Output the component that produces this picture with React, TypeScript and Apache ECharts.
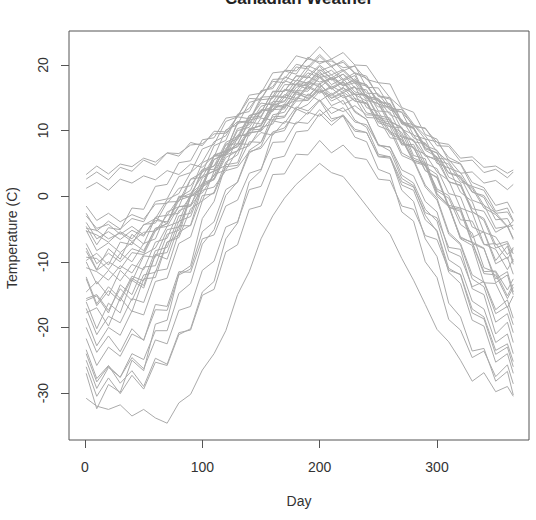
import React, { useEffect, useRef } from "react";
import * as echarts from "echarts";

// Day of year at which each station value is given
const days = [1, 10, 20, 30, 40, 50, 60, 70, 80, 90, 100, 110, 120, 130, 140, 150, 160, 170, 180, 190, 200, 210, 220, 230, 240, 250, 260, 270, 280, 290, 300, 310, 320, 330, 340, 350, 360, 365];

const stJohns = [-3.0,-4.9,-4.3,-5.8,-4.6,-5.9,-3.7,-3.9,-1.6,-1.5,0.9,1.4,3.9,4.4,6.8,7.3,9.8,10.4,13.1,14.0,16.0,15.0,15.9,14.5,14.1,11.7,11.3,9.0,8.5,6.1,5.7,3.6,3.1,0.6,0.1,-2.6,-2.4,-3.8];
const halifax = [-4.0,-6.5,-5.4,-6.6,-5.2,-6.1,-3.2,-2.9,-0.3,0.4,3.1,3.8,6.7,7.6,10.2,10.8,13.3,14.0,16.6,17.1,18.7,17.7,18.6,17.2,16.8,14.4,13.9,11.2,10.4,7.7,7.0,4.3,3.6,0.7,-0.2,-3.6,-3.4,-5.1];
const sydney = [-4.9,-5.2,-6.5,-5.6,-6.9,-5.5,-5.3,-2.9,-2.6,0.0,0.5,3.3,4.0,7.0,7.7,10.5,11.0,13.9,14.6,17.1,17.1,18.1,17.0,17.6,15.2,14.8,12.4,11.7,8.9,8.1,5.5,4.9,2.2,1.5,-1.4,-2.5,-4.6,-3.8];
const yarmouth = [-1.5,-3.7,-2.6,-3.9,-2.8,-3.5,-1.2,-1.1,1.2,1.6,4.1,4.6,7.0,7.5,9.7,9.9,12.1,12.2,14.5,14.6,16.2,15.3,16.5,15.5,15.5,13.6,13.6,11.3,10.9,8.7,8.3,5.9,5.0,2.1,1.3,-1.4,-0.9,-2.6];
const charlottetown = [-5.2,-8.3,-7.1,-8.6,-7.0,-8.3,-4.9,-4.6,-1.6,-1.3,1.8,2.5,5.9,6.9,10.1,10.8,13.9,14.4,17.2,17.3,19.3,18.0,19.1,17.4,17.0,14.5,14.1,11.0,10.3,7.2,6.6,3.5,2.9,-0.6,-1.3,-4.9,-4.6,-6.6];
const fredericton = [-7.2,-10.3,-8.7,-10.0,-8.0,-8.6,-4.9,-4.2,-0.6,0.0,3.7,4.6,8.2,9.1,12.3,12.8,15.9,16.0,18.3,18.3,20.0,18.5,19.3,17.6,17.0,14.0,13.6,10.2,9.4,6.3,5.4,2.2,1.6,-2.4,-3.4,-7.4,-6.9,-8.8];
const schefferville = [-20.0,-23.8,-21.3,-23.7,-20.2,-22.0,-16.5,-16.8,-11.5,-11.6,-6.5,-5.9,-1.5,-0.6,3.5,4.1,8.2,8.3,11.3,11.1,13.2,11.4,12.4,10.2,9.7,6.1,6.0,2.2,1.4,-2.5,-3.3,-7.8,-8.1,-14.1,-15.0,-21.0,-19.2,-22.3];
const arvida = [-12.6,-16.7,-14.4,-16.0,-12.5,-13.6,-8.9,-8.6,-3.8,-3.1,1.4,2.6,6.8,7.9,11.6,12.0,15.3,15.2,17.7,17.2,19.0,17.0,17.9,15.9,15.4,12.3,11.9,8.1,7.5,3.9,2.9,-1.4,-1.8,-7.0,-7.9,-13.2,-12.0,-15.0];
const bagotville = [-15.6,-15.0,-17.4,-14.1,-15.9,-12.0,-11.6,-7.0,-6.3,-1.9,-0.7,3.8,4.7,9.0,9.7,13.0,13.6,16.3,16.0,18.2,17.4,17.9,16.1,16.7,13.5,12.9,9.8,9.0,5.5,4.8,0.8,-0.3,-4.3,-5.6,-10.9,-11.6,-15.2,-13.4];
const quebec = [-10.0,-13.4,-11.3,-12.9,-10.4,-11.2,-7.0,-6.4,-2.2,-1.5,2.8,3.9,7.9,8.8,12.3,12.7,16.0,16.0,18.4,18.0,19.8,17.8,18.6,16.5,16.2,13.0,12.8,9.2,8.6,5.0,4.2,0.4,-0.1,-4.7,-5.5,-10.3,-9.3,-11.9];
const sherbrooke = [-10.9,-11.5,-12.8,-10.6,-11.7,-8.9,-7.9,-4.6,-3.9,0.4,1.9,5.6,6.5,10.3,10.9,13.7,14.3,17.0,17.0,18.8,18.1,18.5,16.8,17.3,14.6,14.1,11.4,10.5,7.2,6.4,3.7,2.4,-1.8,-2.5,-7.3,-8.1,-11.2,-9.6];
const montreal = [-9.3,-9.5,-11.2,-8.7,-10.0,-7.2,-6.5,-2.4,-1.6,2.6,3.6,7.7,8.5,12.5,12.9,16.1,16.4,19.1,18.6,21.2,20.2,20.9,19.1,19.9,16.6,16.5,13.6,12.8,9.3,8.7,5.0,4.3,0.6,-0.8,-5.5,-6.2,-8.9,-7.8];
const ottawa = [-8.4,-11.3,-10.0,-11.1,-8.6,-8.9,-5.3,-4.1,-0.2,0.9,5.1,6.0,10.1,10.9,14.3,14.8,17.8,17.9,20.1,19.7,21.6,19.9,20.4,18.7,18.0,15.3,15.0,11.4,10.5,7.4,6.6,2.9,2.0,-2.3,-3.7,-7.9,-7.2,-10.0];
const toronto = [-2.6,-5.3,-3.8,-5.0,-3.4,-3.9,-0.8,-0.4,3.0,3.6,7.2,7.9,11.4,12.1,15.4,15.7,18.8,19.0,21.4,20.9,22.8,20.9,21.9,20.0,19.9,17.3,17.1,13.5,12.8,9.4,8.7,5.4,4.9,1.5,0.9,-2.3,-1.8,-3.7];
const london = [-5.3,-5.9,-7.0,-5.4,-6.5,-4.4,-3.4,-0.5,0.4,3.6,5.2,8.3,9.2,12.2,13.4,15.9,16.7,19.2,19.1,20.9,20.5,20.6,19.6,19.8,17.8,17.3,15.0,13.4,11.0,9.2,6.8,5.2,2.6,1.2,-1.8,-2.8,-4.7,-4.4];
const thunderBay = [-12.3,-16.4,-13.8,-15.6,-12.2,-12.9,-8.3,-7.8,-3.0,-2.6,2.0,2.7,6.3,6.9,10.1,10.2,13.2,13.3,16.1,16.0,18.1,16.4,17.3,15.6,15.3,12.0,11.6,8.0,7.4,3.9,2.8,-1.7,-2.3,-7.2,-8.0,-12.6,-11.5,-14.6];
const winnipeg = [-17.8,-17.0,-19.8,-15.5,-17.6,-12.6,-12.4,-7.0,-5.9,0.0,1.1,6.2,6.8,11.3,11.5,15.1,15.2,18.2,17.5,19.9,19.1,19.8,17.8,18.8,15.0,14.6,11.4,10.4,6.2,5.7,0.4,-1.4,-6.5,-7.5,-13.2,-13.3,-17.0,-15.2];
const thePas = [-18.6,-22.8,-20.0,-21.2,-17.5,-18.1,-13.0,-12.5,-7.2,-6.2,-0.7,0.6,5.2,6.3,10.3,10.7,14.4,14.5,17.0,16.3,18.2,16.3,17.4,14.9,14.2,10.7,10.0,6.2,5.4,1.4,-0.6,-5.8,-7.4,-12.6,-13.8,-19.2,-17.9,-20.8];
const churchill = [-24.0,-28.3,-25.9,-27.6,-24.6,-26.3,-21.9,-22.5,-17.4,-16.8,-11.3,-9.9,-4.7,-3.9,1.0,1.5,5.7,6.1,9.8,10.0,12.6,10.8,12.3,9.9,9.7,6.0,5.8,1.7,0.9,-3.6,-5.2,-11.0,-12.0,-17.8,-18.7,-24.1,-23.0,-26.0];
const regina = [-15.9,-15.2,-17.8,-13.5,-15.0,-10.8,-10.6,-5.8,-5.2,0.1,1.6,6.3,6.9,11.1,11.5,14.7,14.9,17.6,17.0,19.3,18.4,19.2,17.6,18.4,14.9,14.1,10.8,9.7,5.8,5.1,0.3,-1.4,-6.2,-7.1,-11.8,-12.0,-15.6,-13.9];
const princeAlbert = [-17.1,-21.1,-18.3,-19.3,-15.6,-16.2,-11.4,-11.1,-5.5,-4.4,1.4,3.1,7.3,8.6,12.0,12.2,15.2,15.0,17.1,16.8,18.4,16.6,17.5,15.5,14.5,11.2,10.6,6.6,5.6,1.7,-0.3,-5.5,-7.2,-12.0,-13.1,-17.9,-16.8,-19.6];
const uraniumCity = [-21.7,-25.8,-23.0,-24.4,-21.0,-21.9,-17.3,-17.4,-12.0,-11.1,-5.4,-3.9,1.0,2.1,6.6,7.6,11.7,12.0,15.0,14.6,16.7,14.5,15.4,12.8,11.7,7.7,7.5,3.2,2.0,-2.0,-3.8,-9.7,-10.9,-16.0,-17.2,-22.3,-21.0,-24.0];
const edmonton = [-14.6,-13.0,-15.2,-11.3,-13.0,-9.1,-9.3,-5.1,-4.7,-0.1,1.3,5.6,6.4,10.0,10.5,13.1,13.2,15.5,14.9,16.8,15.9,16.5,15.0,15.6,12.7,12.3,9.5,8.7,5.2,4.7,0.0,-1.6,-6.4,-7.0,-11.5,-11.4,-14.3,-12.6];
const calgary = [-7.9,-11.2,-8.0,-9.6,-5.8,-7.3,-3.3,-4.2,0.0,-0.1,4.0,4.1,7.8,8.0,11.3,11.0,14.1,13.6,15.9,15.3,17.0,15.5,16.6,14.5,14.2,11.4,11.0,7.8,7.9,4.5,3.3,-1.7,-2.0,-6.3,-5.4,-9.8,-7.6,-10.4];
const kamloops = [-4.6,-7.4,-4.8,-5.1,-1.8,-2.0,1.5,1.8,5.1,5.4,8.6,8.9,11.9,12.2,14.9,14.8,17.5,17.3,19.7,19.4,21.3,19.7,20.7,18.8,18.3,15.2,14.8,11.2,10.4,7.0,6.0,2.2,1.7,-1.9,-2.3,-5.5,-4.5,-6.4];
const vancouver = [2.6,3.7,2.5,4.4,3.8,5.5,4.7,6.6,6.1,8.2,7.7,9.9,9.8,12.1,11.8,14.2,13.9,16.2,15.7,17.5,16.6,18.0,16.8,17.9,15.7,15.6,13.3,13.2,10.6,10.4,7.7,7.6,5.3,5.5,3.6,4.1,2.8,3.7];
const victoria = [3.3,4.6,3.4,4.9,4.5,5.8,5.2,6.6,6.5,7.8,8.0,9.5,9.6,11.4,11.2,13.2,12.9,15.1,14.6,16.6,15.7,16.8,15.8,16.6,15.2,14.9,13.1,12.8,10.8,10.3,8.2,7.9,5.8,6.0,4.4,4.6,3.5,4.0];
const princeGeorge = [-9.8,-8.7,-10.5,-7.0,-7.4,-4.3,-4.1,-0.9,-0.8,2.6,2.9,6.1,6.2,9.3,9.2,11.9,11.6,14.0,13.3,15.6,14.5,15.7,14.0,14.9,12.0,11.9,8.9,8.6,5.5,4.9,1.1,0.1,-3.6,-3.8,-7.4,-7.2,-9.6,-8.0];
const princeRupert = [1.2,2.1,0.9,2.6,2.0,3.1,2.5,3.9,3.3,4.9,4.4,6.2,6.3,8.0,7.9,9.7,9.3,11.4,11.0,12.8,12.2,13.6,12.9,13.8,12.4,12.3,10.6,10.4,8.3,8.0,5.8,5.6,3.5,3.7,2.0,2.4,1.0,1.8];
const whitehorse = [-16.1,-20.2,-16.3,-17.8,-12.8,-14.0,-8.9,-9.6,-4.5,-4.5,0.1,0.4,4.5,4.7,8.3,8.2,11.5,11.1,13.6,13.0,14.7,12.6,13.5,11.3,10.9,7.8,7.5,4.0,3.1,-0.8,-2.4,-8.4,-9.2,-13.8,-13.0,-17.3,-15.8,-18.6];
const dawson = [-27.0,-32.4,-28.7,-29.9,-25.0,-26.6,-19.5,-18.9,-11.8,-10.6,-3.4,-0.8,4.8,5.1,9.6,10.0,13.8,13.5,15.9,14.8,16.4,13.8,14.6,11.6,10.5,6.4,6.0,0.9,-0.8,-6.5,-9.2,-16.3,-18.4,-23.6,-23.2,-28.2,-26.7,-30.3];
const yellowknife = [-25.0,-29.3,-26.1,-27.6,-24.0,-24.9,-20.5,-20.5,-14.8,-13.3,-7.3,-5.1,0.1,2.2,7.0,8.2,12.4,12.8,15.6,15.0,17.2,14.9,15.7,13.0,11.7,7.9,6.9,2.7,1.6,-2.9,-5.4,-11.6,-13.3,-18.9,-19.8,-25.3,-24.0,-27.0];
const iqaluit = [-23.4,-27.8,-25.8,-28.5,-26.6,-29.0,-24.7,-25.6,-20.8,-20.4,-15.1,-14.2,-8.5,-7.4,-2.0,-1.5,3.3,3.4,6.4,6.3,8.5,6.6,7.8,5.9,5.6,2.6,2.4,-1.5,-2.0,-6.0,-6.6,-11.3,-11.9,-17.2,-18.4,-23.5,-22.5,-25.2];
const inuvik = [-26.0,-30.5,-27.7,-30.1,-27.3,-29.4,-25.3,-25.8,-21.1,-20.2,-14.6,-13.0,-6.5,-4.1,2.2,3.9,9.6,10.0,13.3,12.5,14.6,11.8,12.2,9.0,8.3,4.1,3.4,-2.4,-3.8,-10.0,-12.4,-18.8,-20.4,-24.6,-23.6,-27.5,-25.7,-28.6];
const resolute = [-30.8,-32.0,-32.5,-31.8,-33.5,-32.5,-33.8,-34.6,-31.5,-30.2,-26.5,-24.0,-20.5,-15.0,-11.5,-6.5,-3.0,-0.3,1.8,3.4,5.0,3.6,3.0,0.8,-1.5,-3.8,-5.8,-9.5,-12.8,-16.5,-20.3,-22.2,-25.0,-28.2,-26.9,-29.8,-29.0,-30.5];

const stations = [
  stJohns, halifax, sydney, yarmouth, charlottetown, fredericton, schefferville,
  arvida, bagotville, quebec, sherbrooke, montreal, ottawa, toronto, london,
  thunderBay, winnipeg, thePas, churchill, regina, princeAlbert, uraniumCity,
  edmonton, calgary, kamloops, vancouver, victoria, princeGeorge, princeRupert,
  whitehorse, dawson, yellowknife, iqaluit, inuvik, resolute,
];

const xTicks = [0, 100, 200, 300];
const yTicks = [-30, -20, -10, 0, 10, 20];

const FONT = "'Liberation Sans', Arial, sans-serif";

export default function App() {
  const ref = useRef<HTMLDivElement>(null);
  useEffect(() => {
    if (!ref.current) return;
    const chart = echarts.init(ref.current, null, { renderer: "svg" });
    const series = stations.map((vals) => ({
      type: "line",
      data: days.map((d, i) => [d, vals[i]]),
      showSymbol: false,
      symbol: "none",
      lineStyle: { color: "#aaaaaa", width: 1 },
      silent: true,
    }));
    chart.setOption({
      animation: false,
      backgroundColor: "#ffffff",
      grid: {
        left: 69,
        right: 7,
        top: 31,
        bottom: 80,
        show: true,
        borderColor: "#555555",
        borderWidth: 1,
        backgroundColor: "transparent",
      },
      xAxis: {
        type: "value",
        position: "bottom",
        min: -13.64,
        max: 378.4,
        axisLine: { show: false, onZero: false },
        splitLine: { show: false },
        axisTick: {
          show: true,
          customValues: xTicks,
          length: 8,
          lineStyle: { color: "#555555" },
        },
        axisLabel: {
          customValues: xTicks,
          margin: 20,
          fontSize: 14,
          fontFamily: FONT,
          color: "#333333",
        },
      },
      yAxis: {
        type: "value",
        position: "left",
        min: -37.16,
        max: 25.18,
        axisLine: { show: false, onZero: false },
        splitLine: { show: false },
        axisTick: {
          show: true,
          customValues: yTicks,
          length: 8,
          lineStyle: { color: "#555555" },
        },
        axisLabel: {
          customValues: yTicks,
          rotate: 90,
          margin: 19,
          fontSize: 14,
          fontFamily: FONT,
          color: "#333333",
        },
      },
      graphic: [
        {
          type: "text",
          x: 299,
          y: -2,
          style: {
            text: "Canadian Weather",
            font: `bold 17px ${FONT}`,
            fill: "#222222",
            align: "center",
            verticalAlign: "middle",
          },
        },
        {
          type: "text",
          x: 299,
          y: 501,
          style: {
            text: "Day",
            font: `14px ${FONT}`,
            fill: "#333333",
            align: "center",
            verticalAlign: "middle",
          },
        },
        {
          type: "text",
          x: 12,
          y: 238,
          rotation: Math.PI / 2,
          style: {
            text: "Temperature (C)",
            font: `14px ${FONT}`,
            fill: "#333333",
            align: "center",
            verticalAlign: "middle",
          },
        },
      ],
      series,
    });
    return () => chart.dispose();
  }, []);
  return <div ref={ref} style={{ width: 536, height: 520, position: "fixed", left: 0, top: 0 }} />;
}
